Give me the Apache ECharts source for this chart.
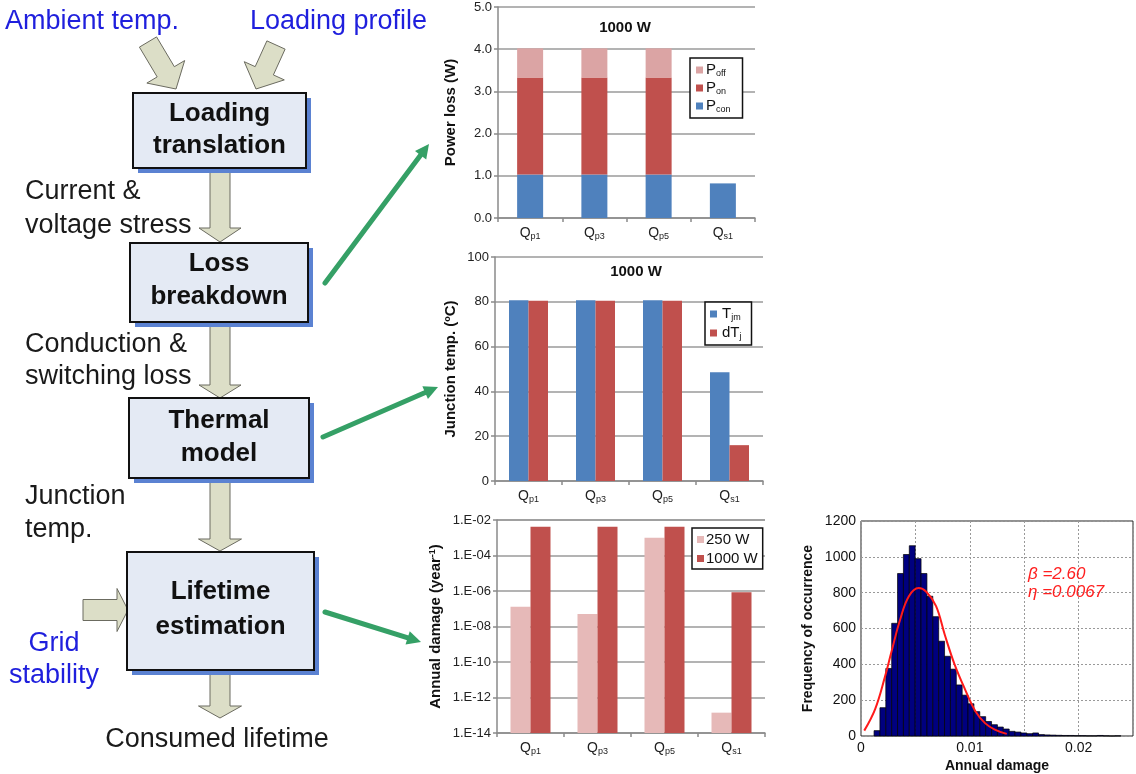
<!DOCTYPE html>
<html><head><meta charset="utf-8">
<script src="https://cdn.jsdelivr.net/npm/echarts@6/dist/echarts.min.js"></script>
<style>html,body{margin:0;padding:0;background:#fff}#c{width:1136px;height:774px}</style>
</head><body><div id="c"></div>
<script>
// ---------- data ----------
const categories = ['Qp1', 'Qp3', 'Qp5', 'Qs1'];
const powerCon = [1.03, 1.03, 1.03, 0.82];
const powerOn = [2.30, 2.30, 2.30, 0];
const powerOff = [0.69, 0.69, 0.69, 0];
const tempTjm = [80.7, 80.7, 80.7, 48.5];
const tempDTj = [80.5, 80.5, 80.5, 16];
const damage250 = [1.3e-7, 5e-8, 1.0e-3, 1.4e-13];
const damage1000 = [4.2e-3, 4.2e-3, 4.2e-3, 8.5e-7];
const histStart = 0.0012;
const histBinWidth = 0.00054;
const histCounts = [30, 158, 377, 629, 907, 1013, 1062, 990, 907, 780, 666, 529, 445, 373, 285, 228, 180, 136, 108, 81, 63, 50, 39, 26, 22, 17, 13, 17, 8, 6, 5, 4, 3, 3, 2, 2, 1, 1, 3, 1, 0, 1];
const weibullCurve = [[0.0003, 30], [0.0013, 150], [0.0022, 330], [0.0028, 470], [0.0036, 650], [0.0044, 780], [0.0053, 826], [0.0060, 805], [0.0069, 725], [0.0077, 565], [0.0086, 400], [0.0096, 255], [0.0105, 140], [0.0114, 72], [0.0123, 36], [0.0134, 12]];
const weibullLabels = ['\u03b2 =2.60', '\u03b7 =0.0067'];

// ---------- helpers ----------
const FONT = '"Liberation Sans", Arial, sans-serif';
const subRich = {
  q: { fontSize: 14, color: '#222', fontFamily: FONT, verticalAlign: 'top', lineHeight: 15 },
  s: { fontSize: 9, color: '#222', fontFamily: FONT, verticalAlign: 'bottom', lineHeight: 11, padding: [6, 0, 0, 0] }
};
const catFmt = v => '{q|' + v[0] + '}{s|' + v.slice(1) + '}';
const legRich = {
  m: { fontSize: 15, color: '#111', fontFamily: FONT, verticalAlign: 'top', lineHeight: 16 },
  s: { fontSize: 9, color: '#111', fontFamily: FONT, verticalAlign: 'bottom', lineHeight: 10, padding: [7, 0, 0, 0] }
};
const legNames = { Poff: ['P', 'off'], Pon: ['P', 'on'], Pcon: ['P', 'con'], Tjm: ['T', 'jm'], dTj: ['dT', 'j'] };
const legFmt = n => legNames[n] ? '{m|' + legNames[n][0] + '}{s|' + legNames[n][1] + '}' : n;
const gridLine = { show: true, lineStyle: { color: '#9a9a9a', width: 1.5 } };
const axLine = { show: true, lineStyle: { color: '#8a8a8a', width: 1.5 } };
const yLab = { fontSize: 13, color: '#222', fontFamily: FONT, margin: 6 };
const logFmt = v => { const e = Math.round(Math.log10(v)); return '1.E' + (e < 0 ? '-' : '+') + String(Math.abs(e)).padStart(2, '0'); };

function blockArrow(x1, y1, x2, y2, sw, hw, hl) {
  const dx = x2 - x1, dy = y2 - y1, L = Math.hypot(dx, dy), ux = dx / L, uy = dy / L, nx = -uy, ny = ux;
  const bx = x2 - ux * hl, by = y2 - uy * hl;
  const pts = [[x1 + nx * sw / 2, y1 + ny * sw / 2], [bx + nx * sw / 2, by + ny * sw / 2], [bx + nx * hw / 2, by + ny * hw / 2], [x2, y2],
    [bx - nx * hw / 2, by - ny * hw / 2], [bx - nx * sw / 2, by - ny * sw / 2], [x1 - nx * sw / 2, y1 - ny * sw / 2]];
  return { type: 'polygon', z: 1, shape: { points: pts }, style: { fill: '#DCDEC7', stroke: '#6b6b60', lineWidth: 1 } };
}
function greenArrow(x1, y1, x2, y2) {
  const dx = x2 - x1, dy = y2 - y1, L = Math.hypot(dx, dy), ux = dx / L, uy = dy / L, nx = -uy, ny = ux;
  const hl = 14, hw = 14;
  const bx = x2 - ux * hl, by = y2 - uy * hl;
  return [
    { type: 'line', z: 3, shape: { x1: x1, y1: y1, x2: bx + ux * 2, y2: by + uy * 2 }, style: { stroke: '#35A066', lineWidth: 5, lineCap: 'round' } },
    { type: 'polygon', z: 3, shape: { points: [[x2, y2], [bx + nx * hw / 2, by + ny * hw / 2], [bx - nx * hw / 2, by - ny * hw / 2]] }, style: { fill: '#35A066' } }
  ];
}
function box(x, y, w, h, lines, ys) {
  const els = [
    { type: 'rect', z: 2, shape: { x: x + 5, y: y + 5, width: w, height: h }, style: { fill: '#5B82D2' } },
    { type: 'rect', z: 3, shape: { x: x, y: y, width: w, height: h }, style: { fill: '#E4EAF4', stroke: '#111', lineWidth: 2 } }
  ];
  lines.forEach((t, i) => els.push({ type: 'text', z: 4, style: { text: t, x: x + w / 2, y: ys[i], align: 'center', verticalAlign: 'middle', fontSize: 26, fontWeight: 'bold', fontFamily: FONT, fill: '#111' } }));
  return els;
}
function label(t, x, y, color, align) {
  return { type: 'text', z: 4, style: { text: t, x: x, y: y, align: align || 'left', verticalAlign: 'middle', fontSize: 27, fontFamily: FONT, fill: color || '#1a1a1a' } };
}

const graphics = [].concat(
  blockArrow(148, 42, 176, 89, 20, 44, 20),
  blockArrow(276, 45, 256, 89, 20, 44, 20),
  blockArrow(220, 168, 220, 242, 20, 42, 14),
  blockArrow(220, 321, 220, 398, 20, 42, 13),
  blockArrow(220, 478, 220, 551, 20, 43, 12),
  blockArrow(220, 670, 220, 718, 20, 43, 12),
  blockArrow(83, 610, 128, 610, 21, 43, 11),
  box(133, 93, 173, 75, ['Loading', 'translation'], [114, 146]),
  box(130, 243, 178, 79, ['Loss', 'breakdown'], [264, 297]),
  box(129, 398, 180, 80, ['Thermal', 'model'], [421, 454]),
  box(127, 552, 187, 118, ['Lifetime', 'estimation'], [592, 627]),
  label('Ambient temp.', 5, 22, '#1F1FDD'),
  label('Loading profile', 250, 22, '#1F1FDD'),
  label('Current &', 25, 192),
  label('voltage stress', 25, 226),
  label('Conduction &', 25, 345),
  label('switching loss', 25, 377),
  label('Junction', 25, 497),
  label('temp.', 25, 530),
  label('Grid', 54, 644, '#1F1FDD', 'center'),
  label('stability', 54, 676, '#1F1FDD', 'center'),
  label('Consumed lifetime', 217, 740, '#1a1a1a', 'center'),
  greenArrow(325, 283, 429, 144),
  greenArrow(323, 437, 438, 387),
  greenArrow(325, 612, 421, 642),
  [
    { type: 'text', z: 5, style: { text: '1000 W', x: 625, y: 28, align: 'center', verticalAlign: 'middle', fontSize: 15, fontWeight: 'bold', fontFamily: FONT, fill: '#111' } },
    { type: 'text', z: 5, style: { text: '1000 W', x: 636, y: 272, align: 'center', verticalAlign: 'middle', fontSize: 15, fontWeight: 'bold', fontFamily: FONT, fill: '#111' } },
    { type: 'text', z: 5, style: { text: weibullLabels[0], x: 1028, y: 574, align: 'left', verticalAlign: 'middle', fontSize: 17, fontStyle: 'italic', fontFamily: FONT, fill: '#FF2020' } },
    { type: 'text', z: 5, style: { text: weibullLabels[1], x: 1028, y: 592, align: 'left', verticalAlign: 'middle', fontSize: 17, fontStyle: 'italic', fontFamily: FONT, fill: '#FF2020' } }
  ]
);

const histData = histCounts.map((c, i) => [histStart + i * histBinWidth, histStart + (i + 1) * histBinWidth, c]);

const catAxisBase = {
  type: 'category', data: categories,
  axisLine: axLine,
  axisTick: { show: true, length: 4, lineStyle: { color: '#8a8a8a', width: 1.5 } },
  axisLabel: { interval: 0, formatter: catFmt, rich: subRich, margin: 8 }
};

const option = {
  animation: false,
  backgroundColor: '#fff',
  graphic: { elements: graphics },
  grid: [
    { left: 498, top: 7, width: 257, height: 211 },
    { left: 495, top: 257, width: 268, height: 224 },
    { left: 497, top: 520, width: 268, height: 213 },
    { left: 861, top: 521, width: 272, height: 219, show: true, borderColor: '#222', borderWidth: 1 }
  ],
  legend: [
    { data: ['Poff', 'Pon', 'Pcon'], orient: 'vertical', left: 690, top: 58, itemWidth: 7, itemHeight: 7, itemGap: 2, icon: 'rect',
      formatter: legFmt, textStyle: { rich: legRich, padding: [0, 0, 0, -2] }, borderColor: '#111', borderWidth: 1.5, padding: [4, 12, 4, 6], backgroundColor: '#fff' },
    { data: ['Tjm', 'dTj'], orient: 'vertical', left: 705, top: 302, itemWidth: 7, itemHeight: 7, itemGap: 3, icon: 'rect',
      formatter: legFmt, textStyle: { rich: legRich }, borderColor: '#111', borderWidth: 1.5, padding: [4, 10, 4, 5], backgroundColor: '#fff' },
    { data: ['250 W', '1000 W'], orient: 'vertical', left: 692, top: 528, itemWidth: 7, itemHeight: 7, itemGap: 4, icon: 'rect',
      textStyle: { fontSize: 15, color: '#111', fontFamily: FONT, padding: [0, 0, 0, -3] }, borderColor: '#111', borderWidth: 1.5, padding: [4, 5, 3, 5], backgroundColor: '#fff' }
  ],
  xAxis: [
    Object.assign({ gridIndex: 0 }, catAxisBase),
    Object.assign({ gridIndex: 1 }, catAxisBase),
    Object.assign({ gridIndex: 2 }, catAxisBase),
    { gridIndex: 3, type: 'value', min: 0, max: 0.025, interval: 0.005,
      name: 'Annual damage', nameLocation: 'middle', nameGap: 23,
      nameTextStyle: { fontSize: 14, fontWeight: 'bold', fontFamily: FONT, color: '#111' },
      axisLine: { show: false }, axisTick: { show: false },
      axisLabel: { fontSize: 14, color: '#111', fontFamily: FONT, margin: 5,
        formatter: v => { const r = v / 0.01; return Math.abs(r - Math.round(r)) < 1e-6 ? (Math.round(r) === 0 ? '0' : (Math.round(r) / 100).toFixed(2)) : ''; } },
      splitLine: { show: true, lineStyle: { color: '#999', type: [2, 2], width: 1 } } }
  ],
  yAxis: [
    { gridIndex: 0, type: 'value', min: 0, max: 5, interval: 1,
      name: 'Power loss (W)', nameLocation: 'middle', nameGap: 40, nameRotate: 90,
      nameTextStyle: { fontSize: 15, fontWeight: 'bold', fontFamily: FONT, color: '#111' },
      axisLine: axLine, axisTick: { show: true, length: 4, lineStyle: { color: '#8a8a8a', width: 1.5 } },
      axisLabel: Object.assign({ formatter: v => v.toFixed(1) }, yLab), splitLine: gridLine },
    { gridIndex: 1, type: 'value', min: 0, max: 100, interval: 20,
      name: 'Junction temp. (\u00baC)', nameLocation: 'middle', nameGap: 37, nameRotate: 90,
      nameTextStyle: { fontSize: 15, fontWeight: 'bold', fontFamily: FONT, color: '#111' },
      axisLine: axLine, axisTick: { show: true, length: 4, lineStyle: { color: '#8a8a8a', width: 1.5 } },
      axisLabel: yLab, splitLine: gridLine },
    { gridIndex: 2, type: 'log', logBase: 10, min: 1e-14, max: 1e-2, interval: 2, startValue: 1e-14,
      name: 'Annual damage (year{sup|-1})', nameLocation: 'middle', nameGap: 54, nameRotate: 90,
      nameTextStyle: { fontSize: 15, fontWeight: 'bold', fontFamily: FONT, color: '#111',
        rich: { sup: { fontSize: 9, fontWeight: 'bold', fontFamily: FONT, color: '#111', verticalAlign: 'top', padding: [0, 0, 6, 0] } } },
      axisLine: axLine, axisTick: { show: true, length: 4, lineStyle: { color: '#8a8a8a', width: 1.5 } },
      axisLabel: Object.assign({ formatter: logFmt }, yLab), splitLine: gridLine, minorTick: { show: false } },
    { gridIndex: 3, type: 'value', min: 0, max: 1200, interval: 200,
      name: 'Frequency of occurrence', nameLocation: 'middle', nameGap: 46, nameRotate: 90,
      nameTextStyle: { fontSize: 14, fontWeight: 'bold', fontFamily: FONT, color: '#111' },
      axisLine: { show: false }, axisTick: { show: false },
      axisLabel: { fontSize: 14, color: '#111', fontFamily: FONT, margin: 5, formatter: v => String(v) },
      splitLine: { show: true, lineStyle: { color: '#999', type: [2, 2], width: 1 } } }
  ],
  series: [
    { name: 'Pcon', type: 'bar', stack: 'p', xAxisIndex: 0, yAxisIndex: 0, data: powerCon, barWidth: 26, itemStyle: { color: '#4F81BD' } },
    { name: 'Pon', type: 'bar', stack: 'p', xAxisIndex: 0, yAxisIndex: 0, data: powerOn, barWidth: 26, itemStyle: { color: '#C0504D' } },
    { name: 'Poff', type: 'bar', stack: 'p', xAxisIndex: 0, yAxisIndex: 0, data: powerOff, barWidth: 26, itemStyle: { color: '#DBA4A4' } },
    { name: 'Tjm', type: 'bar', xAxisIndex: 1, yAxisIndex: 1, data: tempTjm, barWidth: 19.5, barGap: '0%', itemStyle: { color: '#4F81BD' } },
    { name: 'dTj', type: 'bar', xAxisIndex: 1, yAxisIndex: 1, data: tempDTj, barWidth: 19.5, barGap: '0%', itemStyle: { color: '#C0504D' } },
    { name: '250 W', type: 'bar', xAxisIndex: 2, yAxisIndex: 2, data: damage250, barWidth: 20, barGap: '0%', itemStyle: { color: '#E6B9B8' } },
    { name: '1000 W', type: 'bar', xAxisIndex: 2, yAxisIndex: 2, data: damage1000, barWidth: 20, barGap: '0%', itemStyle: { color: '#C0504D' } },
    { name: 'hist', type: 'custom', xAxisIndex: 3, yAxisIndex: 3, data: histData, encode: { x: [0, 1], y: 2 },
      renderItem: (params, api) => {
        const p0 = api.coord([api.value(0), 0]);
        const p1 = api.coord([api.value(1), api.value(2)]);
        return { type: 'rect', shape: { x: p0[0], y: p1[1], width: p1[0] - p0[0], height: p0[1] - p1[1] }, style: { fill: '#00007F', stroke: '#000', lineWidth: 0.7 } };
      } },
    { name: 'fit', type: 'line', xAxisIndex: 3, yAxisIndex: 3, data: weibullCurve, smooth: 0.4, showSymbol: false, z: 5,
      lineStyle: { color: '#FF1A1A', width: 2 } }
  ]
};
const chart = echarts.init(document.getElementById('c'), null, { renderer: 'canvas' });
chart.setOption(option);
</script>
</body></html>
